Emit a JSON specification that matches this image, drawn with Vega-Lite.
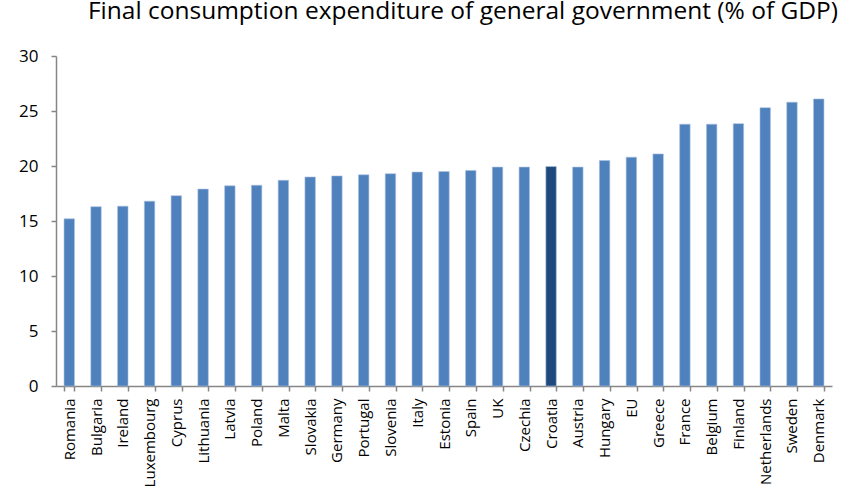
{
  "$schema": "https://vega.github.io/schema/vega-lite/v6.json",
  "autosize": "none",
  "width": 776,
  "height": 330,
  "padding": {"left": 56, "top": 56, "right": 31, "bottom": 105},
  "background": "white",
  "title": {
    "text": "Final consumption expenditure of general government (% of GDP)",
    "font": "Open Sans",
    "fontSize": 24.5,
    "fontWeight": "normal",
    "color": "#000000",
    "anchor": "middle",
    "dx": 19,
    "offset": 23
  },
  "data": {
    "values": [
      {"country": "Romania", "value": 15.2},
      {"country": "Bulgaria", "value": 16.3},
      {"country": "Ireland", "value": 16.35},
      {"country": "Luxembourg", "value": 16.8},
      {"country": "Cyprus", "value": 17.3},
      {"country": "Lithuania", "value": 17.9},
      {"country": "Latvia", "value": 18.2},
      {"country": "Poland", "value": 18.25},
      {"country": "Malta", "value": 18.7},
      {"country": "Slovakia", "value": 19.0},
      {"country": "Germany", "value": 19.1},
      {"country": "Portugal", "value": 19.2},
      {"country": "Slovenia", "value": 19.3},
      {"country": "Italy", "value": 19.45},
      {"country": "Estonia", "value": 19.5},
      {"country": "Spain", "value": 19.6},
      {"country": "UK", "value": 19.9},
      {"country": "Czechia", "value": 19.9},
      {"country": "Croatia", "value": 19.95},
      {"country": "Austria", "value": 19.9},
      {"country": "Hungary", "value": 20.5},
      {"country": "EU", "value": 20.8},
      {"country": "Greece", "value": 21.1},
      {"country": "France", "value": 23.8},
      {"country": "Belgium", "value": 23.8},
      {"country": "Finland", "value": 23.85},
      {"country": "Netherlands", "value": 25.3},
      {"country": "Sweden", "value": 25.8},
      {"country": "Denmark", "value": 26.1}
    ]
  },
  "mark": {"type": "bar", "stroke": "#a9c1e0", "strokeWidth": 0.6},
  "encoding": {
    "x": {
      "field": "country",
      "type": "nominal",
      "sort": null,
      "title": null,
      "scale": {"paddingInner": 0.61, "paddingOuter": 0.3},
      "axis": {
        "labelAngle": -90,
        "labelAlign": "right",
        "labelBaseline": "middle",
        "labelFont": "Open Sans",
        "labelFontSize": 15,
        "labelColor": "#000000",
        "labelPadding": 7,
        "tickBand": "extent",
        "tickSize": 5,
        "tickColor": "#868686",
        "domainColor": "#868686",
        "domainWidth": 1.5,
        "tickWidth": 1.5
      }
    },
    "y": {
      "field": "value",
      "type": "quantitative",
      "title": null,
      "scale": {"domain": [0, 30], "nice": false},
      "axis": {
        "values": [0, 5, 10, 15, 20, 25, 30],
        "grid": false,
        "labelFont": "Open Sans",
        "labelFontSize": 17,
        "labelColor": "#000000",
        "labelPadding": 13,
        "tickSize": 5,
        "tickColor": "#868686",
        "domainColor": "#868686",
        "domainWidth": 1.5,
        "tickWidth": 1.5
      }
    },
    "color": {
      "condition": {"test": "datum.country === 'Croatia'", "value": "#1F497D"},
      "value": "#4F81BD"
    }
  },
  "config": {"view": {"stroke": null}}
}
